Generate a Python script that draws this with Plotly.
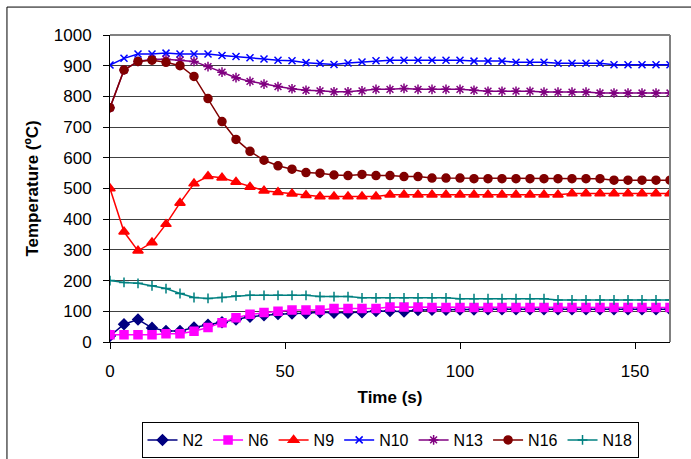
import plotly.graph_objects as go

time_s = list(range(0, 161, 4))

N2 = [20, 58, 73, 46, 36, 36, 47, 56, 64, 73, 82, 87, 91, 93, 94, 97, 95, 95, 97, 101, 101,
      99, 104, 105, 105, 106, 106, 107, 107, 107, 107, 107, 107, 107, 107, 107, 107, 107, 107, 107, 107]
N6 = [24, 24, 24, 24, 27, 27, 35, 47, 63, 79, 90, 96, 100, 104, 104, 104, 109, 109, 109, 109, 114,
      114, 114, 112, 112, 112, 112, 112, 112, 112, 112, 112, 112, 112, 112, 112, 112, 112, 112, 112, 112]
N9 = [500, 359, 297, 324, 384, 453, 516, 540, 535, 521, 505, 493, 488, 483, 478, 474, 474, 474, 474, 474,
      480, 480, 480, 480, 480, 480, 480, 480, 480, 480, 480, 480, 480, 484, 484, 484, 484, 484, 484, 484, 484]
N10 = [902, 924, 938, 938, 941, 938, 938, 938, 933, 930, 926, 922, 918, 916, 910, 908, 904, 909, 912, 916,
       918, 918, 918, 918, 918, 918, 915, 915, 915, 911, 911, 911, 908, 908, 908, 908, 903, 903, 903, 903, 903]
N13 = [763, 886, 914, 921, 921, 918, 914, 897, 879, 861, 849, 840, 832, 825, 820, 818, 815, 815, 818, 823,
       823, 826, 823, 823, 823, 823, 820, 817, 817, 817, 817, 814, 814, 814, 814, 811, 811, 811, 811, 811, 811]
N16 = [763, 886, 914, 918, 911, 900, 865, 793, 718, 660, 621, 592, 574, 563, 552, 550, 544, 542, 546, 542,
       542, 539, 539, 534, 534, 534, 532, 532, 532, 532, 532, 532, 532, 532, 532, 532, 527, 527, 527, 527, 527]
N18 = [200, 194, 191, 183, 174, 158, 145, 142, 145, 150, 152, 152, 152, 152, 152, 148, 148, 148, 144, 144,
       144, 144, 144, 144, 144, 141, 141, 141, 141, 141, 141, 141, 137, 137, 137, 137, 137, 137, 137, 137, 137]

series_names = ["N2", "N6", "N9", "N10", "N13", "N16", "N18"]
series_values = [N2, N6, N9, N10, N13, N16, N18]
colors = ["#000080", "#FF00FF", "#FF0000", "#0000FF", "#800080", "#800000", "#008080"]
symbols = ["diamond", "square", "triangle-up", "x-thin-open", "asterisk-open", "circle", "cross-thin-open"]
sizes = [8, 8, 9, 7, 8, 8, 7]

x_ticks = [0, 50, 100, 150]
y_ticks = list(range(0, 1001, 100))

FONT = "Arial, Liberation Sans, sans-serif"

fig = go.Figure()
for name, vals, col, sym, sz in zip(series_names, series_values, colors, symbols, sizes):
    fig.add_trace(go.Scatter(
        x=time_s, y=vals, name=name, mode="lines+markers",
        line=dict(color=col, width=1.5),
        marker=dict(symbol=sym, size=sz, color=col, line=dict(color=col, width=1.5)),
    ))

fig.update_layout(
    width=691, height=459,
    margin=dict(l=110, r=21, t=35, b=117, autoexpand=False),
    paper_bgcolor="white", plot_bgcolor="white",
    font=dict(family=FONT, size=17, color="black"),
    showlegend=True,
    legend=dict(
        orientation="h", x=0.5, xanchor="center",
        yref="container", y=1 - 422 / 459, yanchor="top",
        bordercolor="black", borderwidth=1, bgcolor="white",
        font=dict(family=FONT, size=16), itemwidth=30, tracegroupgap=0,
    ),
    xaxis=dict(
        range=[0, 160], tickvals=x_ticks, showgrid=False, zeroline=False,
        showline=True, linecolor="black", linewidth=1, automargin=False,
        ticks="outside", ticklen=6, tickcolor="black", ticklabelstandoff=8,
        title=dict(text="Time (s)", font=dict(family=FONT, size=17, weight="bold"), standoff=10),
    ),
    yaxis=dict(
        range=[0, 1000], tickvals=y_ticks, showgrid=True, gridcolor="#404040", gridwidth=1,
        zeroline=False, showline=True, linecolor="black", linewidth=1, automargin=False,
        ticks="outside", ticklen=6, tickcolor="black", ticklabelstandoff=8,
        title=dict(text="Temperature (ºC)", font=dict(family=FONT, size=17, weight="bold"), standoff=10),
    ),
    shapes=[
        dict(type="line", xref="paper", yref="paper", x0=0, x1=1, y0=1, y1=1,
             line=dict(color="#808080", width=2), layer="above"),
        dict(type="line", xref="paper", yref="paper", x0=1, x1=1, y0=0, y1=1,
             line=dict(color="#808080", width=2), layer="above"),
        dict(type="line", xref="paper", yref="paper", x0=-0.184, x1=-0.184, y0=-0.5, y1=1.091,
             line=dict(color="black", width=1)),
        dict(type="line", xref="paper", yref="paper", x0=-0.184, x1=1.1, y0=1.091, y1=1.091,
             line=dict(color="black", width=1)),
    ],
)

fig.write_html("out.html")
